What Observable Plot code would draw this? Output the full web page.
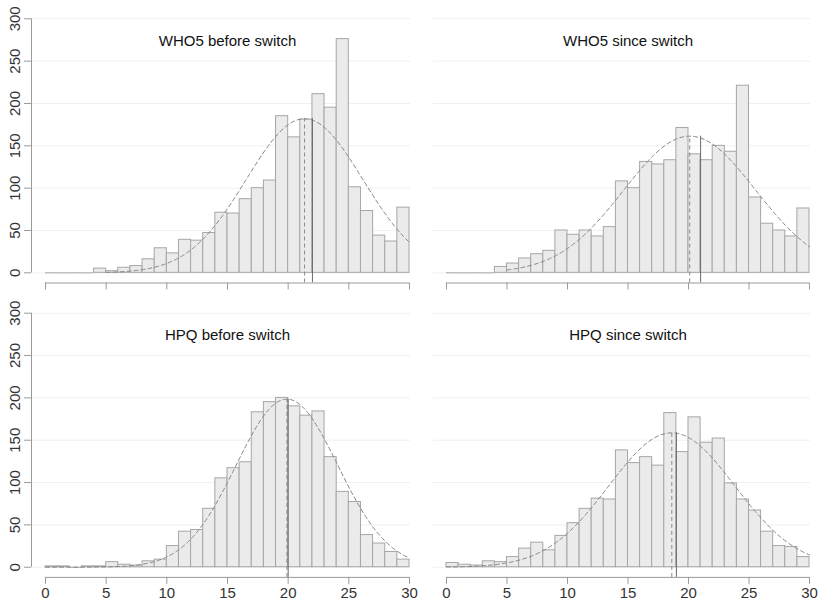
<!DOCTYPE html>
<html>
<head>
<meta charset="utf-8">
<script src="https://cdn.jsdelivr.net/npm/d3@7"></script>
<script src="https://cdn.jsdelivr.net/npm/@observablehq/plot@0.6"></script>
<style>
  body { margin: 0; background: #fff; }
  #wrap { position: relative; width: 830px; height: 604px; font-family: "Liberation Sans", Arial, sans-serif; }
  .panel { position: absolute; }
</style>
</head>
<body>
<div id="wrap"></div>
<script>
// ---- data ----
const breaks = [0,1,2,3,4,5,6,7,8,9,10,11,12,13,14,15,16,17,18,19,20,21,22,23,24,25,26,27,28,29,30];
const titles = ["WHO5 before switch", "WHO5 since switch", "HPQ before switch", "HPQ since switch"];
const who5Before = [0,0,0,0,5,2,6,8,16,29,23,39,38,47,71,70,87,100,109,185,160,181,211,195,276,101,73,44,37,77];
const who5Since  = [0,0,0,0,7,11,17,22,26,50,45,50,43,54,108,100,131,128,133,171,140,133,150,143,221,89,58,50,43,76];
const hpqBefore  = [1,1,0,1,1,6,3,2,7,9,25,42,44,69,105,117,124,183,195,200,190,179,184,130,89,77,38,28,18,9];
const hpqSince   = [5,3,2,7,6,12,22,29,20,37,52,69,81,80,138,123,130,120,182,136,177,147,152,99,80,67,42,25,24,12];
const means      = [21.35, 20.1, 19.9, 18.62];
const medians    = [22, 21, 20, 19];
const sds        = [4.8, 5.44, 4.19, 5.2];
const curvePeaks = [182, 161.4, 198.5, 158.7];
const curveFrom  = [5, 5, 0, 0];
const xTicks = [0, 5, 10, 15, 20, 25, 30];
const yTicks = [0, 50, 100, 150, 200, 250, 300];

const series = [who5Before, who5Since, hpqBefore, hpqSince];

// ---- styling / layout ----
const barFill = "#ebebeb", barStroke = "#a6a6a6", axisColor = "#9a9a9a";
const cols = [
  {left: 0,   width: 415, mL: 31, mR: 5,  domain: [-1.154, 30.082]},
  {left: 415, width: 415, mL: 18, mR: 20, domain: [-1.074, 30.083]}
];
const rows = [
  {top: 0,   height: 302, mT: 18.3, mB: 19.5, titleY: 273.5},
  {top: 302, height: 302, mT: 10.7, mB: 27.1, titleY: 274.4}
];
const yDomain = [-12, 300];

function normalCurve(mean, sd, peak, from) {
  const pts = [];
  for (let x = from; x <= 30.0001; x += 0.1) {
    pts.push({x, y: peak * Math.exp(-((x - mean) ** 2) / (2 * sd * sd))});
  }
  return pts;
}

const wrap = document.getElementById("wrap");

series.forEach((counts, i) => {
  const r = Math.floor(i / 2), c = i % 2;
  const col = cols[c], row = rows[r];
  const bins = counts.map((v, k) => ({x1: breaks[k], x2: breaks[k + 1], count: v}));
  const curve = normalCurve(means[i], sds[i], curvePeaks[i], curveFrom[i]);

  const marks = [
    Plot.ruleY(yTicks, {stroke: "#f0f0f0"}),
    Plot.rectY(bins.filter(d => d.count > 0), {x1: "x1", x2: "x2", y1: 0, y2: "count", fill: barFill, stroke: barStroke, strokeWidth: 1}),
    Plot.ruleY(bins.filter(d => d.count === 0), {x1: "x1", x2: "x2", y: 0, stroke: barStroke}),
    Plot.line(curve, {x: "x", y: "y", stroke: "#858585", strokeWidth: 1, strokeDasharray: "4,3"}),
    Plot.ruleX([means[i]], {y1: yDomain[0], y2: curvePeaks[i], stroke: "#8a8a8a", strokeWidth: 1, strokeDasharray: "4,3"}),
    Plot.ruleX([medians[i]], {y1: yDomain[0], y2: curvePeaks[i], stroke: "#6a6a6a", strokeWidth: 1}),
    Plot.text([titles[i]], {x: 15, y: row.titleY, text: d => d, fontSize: 15, fill: "#111", textAnchor: "middle", lineAnchor: "middle"}),
    Plot.ruleY([yDomain[0]], {x1: xTicks[0], x2: xTicks[xTicks.length - 1], stroke: axisColor}),
    Plot.axisX(xTicks, {anchor: "bottom", tickSize: 7, tickPadding: 3, stroke: axisColor, fill: r === 1 ? "#333" : "none", fontSize: 15, label: null})
  ];
  if (c === 0) {
    marks.push(
      Plot.ruleX([col.domain[0]], {y1: yTicks[0], y2: yTicks[yTicks.length - 1], stroke: axisColor}),
      Plot.axisY(yTicks, {anchor: "left", tickSize: 7, stroke: axisColor, fill: "none", label: null}),
      Plot.text(yTicks, {frameAnchor: "left", y: d => d, text: d => String(d), rotate: -90, dx: -16.5, textAnchor: "middle", lineAnchor: "middle", fontSize: 15, fill: "#333"})
    );
  }

  const chart = Plot.plot({
    width: col.width,
    height: row.height,
    marginLeft: col.mL,
    marginRight: col.mR,
    marginTop: row.mT,
    marginBottom: row.mB,
    x: {domain: col.domain, axis: null, label: null},
    y: {domain: yDomain, axis: null, label: null},
    style: {fontFamily: "'Liberation Sans', Arial, sans-serif", fontSize: "15px", background: "transparent", overflow: "visible"},
    marks
  });
  const div = document.createElement("div");
  div.className = "panel";
  div.style.left = col.left + "px";
  div.style.top = row.top + "px";
  div.appendChild(chart);
  wrap.appendChild(div);
});
</script>
</body>
</html>
